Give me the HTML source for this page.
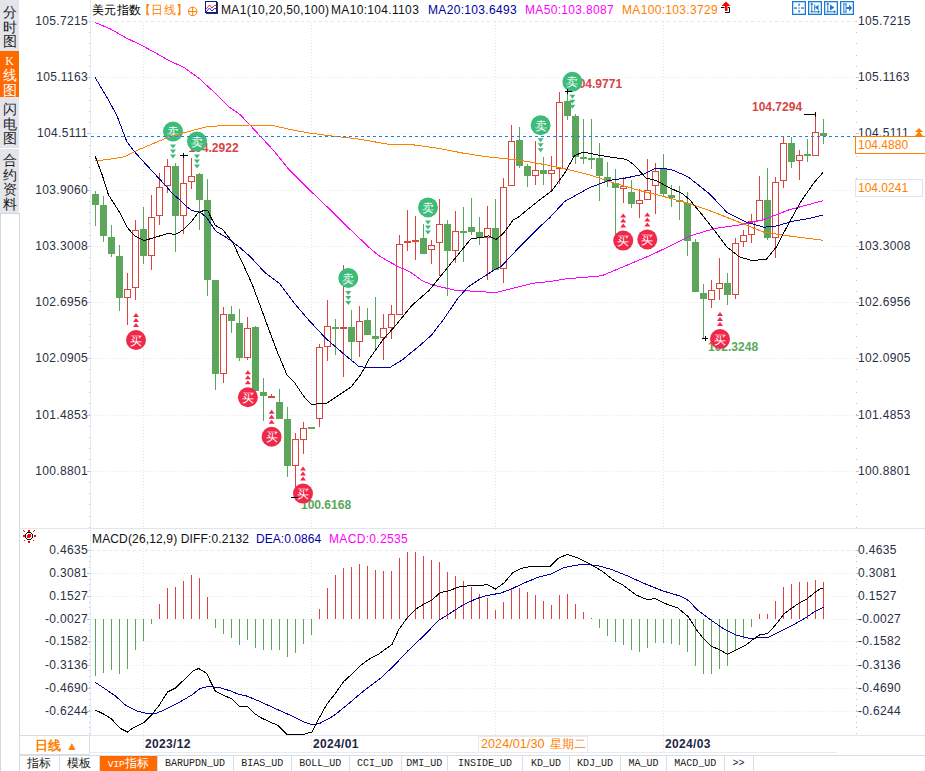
<!DOCTYPE html>
<html><head><meta charset="utf-8"><style>
*{margin:0;padding:0;box-sizing:border-box}
html,body{width:925px;height:771px;overflow:hidden;background:#fff;font-family:"Liberation Sans",sans-serif;color:#222}
#side{position:absolute;left:0;top:0;width:19px;height:214px;background:#e3e5ea}
#side2{position:absolute;left:0;top:213px;width:20px;height:560px;border:1px solid #cfd8e1;background:#fff}
.st{position:absolute;left:0;width:19px;text-align:center;font-size:14px;line-height:14.5px;color:#222}
.st.on{background:#ff6a00;color:#fff}
.yl{position:absolute;left:20px;width:68px;text-align:right;font-size:12px;line-height:16px;color:#2a2f45;letter-spacing:0.33px}
.yr{position:absolute;left:858px;width:64px;text-align:left;font-size:12px;line-height:16px;color:#2a2f45;letter-spacing:0.33px}
svg{position:absolute;left:0;top:0}
.hl{font:bold 12px "Liberation Sans",sans-serif}
.sig{font:500 12px "Liberation Sans",sans-serif;fill:#fff;text-anchor:middle}
.lg{position:absolute;top:2px;font-size:12px;line-height:16px;white-space:nowrap;letter-spacing:0.33px}
.tab{position:absolute;top:755px;height:16px;border-right:1px solid #d9dee6;border-top:1px solid #d9dee6;text-align:center;font:10px/15px "Liberation Mono",monospace;color:#222}
.tab.cn{font:12px/15px "Liberation Sans",sans-serif}
.tab.vip{background:#ff6a00;color:#fff;font:12px/15px "Liberation Sans",sans-serif}
.dt{position:absolute;top:736px;font:bold 12px/16px "Liberation Sans",sans-serif;color:#1f2740;letter-spacing:0.33px}
</style></head><body>
<div id="side"></div>
<div id="side2"></div>
<div class="st" style="top:5px">分<br>时<br>图</div>
<div class="st on" style="top:51px;height:46px;padding-top:4px;overflow:hidden"><div style="font:12px/12px 'Liberation Serif',serif;height:13px">K</div>线<br>图</div>
<div class="st" style="top:102px">闪<br>电<br>图</div>
<div style="position:absolute;left:0;top:148px;width:19px;height:1px;background:#fff"></div>
<div class="st" style="top:153px">合<br>约<br>资<br>料</div>
<svg width="925" height="771" viewBox="0 0 925 771">
<line x1="91" y1="77.5" x2="856" y2="77.5" stroke="#e0e8ef" stroke-dasharray="1 2"/>
<line x1="91" y1="133.5" x2="856" y2="133.5" stroke="#e0e8ef" stroke-dasharray="1 2"/>
<line x1="91" y1="190.5" x2="856" y2="190.5" stroke="#e0e8ef" stroke-dasharray="1 2"/>
<line x1="91" y1="246.5" x2="856" y2="246.5" stroke="#e0e8ef" stroke-dasharray="1 2"/>
<line x1="91" y1="302.5" x2="856" y2="302.5" stroke="#e0e8ef" stroke-dasharray="1 2"/>
<line x1="91" y1="358.5" x2="856" y2="358.5" stroke="#e0e8ef" stroke-dasharray="1 2"/>
<line x1="91" y1="415.5" x2="856" y2="415.5" stroke="#e0e8ef" stroke-dasharray="1 2"/>
<line x1="91" y1="471.5" x2="856" y2="471.5" stroke="#e0e8ef" stroke-dasharray="1 2"/>
<line x1="91" y1="21.5" x2="856" y2="21.5" stroke="#e0e8ef" stroke-dasharray="3 3"/>
<line x1="143.5" y1="22" x2="143.5" y2="527" stroke="#e0e8ef" stroke-dasharray="1 2"/>
<line x1="143.5" y1="545" x2="143.5" y2="735" stroke="#e0e8ef" stroke-dasharray="1 2"/>
<line x1="311.5" y1="22" x2="311.5" y2="527" stroke="#e0e8ef" stroke-dasharray="1 2"/>
<line x1="311.5" y1="545" x2="311.5" y2="735" stroke="#e0e8ef" stroke-dasharray="1 2"/>
<line x1="495.5" y1="22" x2="495.5" y2="527" stroke="#e0e8ef" stroke-dasharray="1 2"/>
<line x1="495.5" y1="545" x2="495.5" y2="735" stroke="#e0e8ef" stroke-dasharray="1 2"/>
<line x1="663.5" y1="22" x2="663.5" y2="527" stroke="#e0e8ef" stroke-dasharray="1 2"/>
<line x1="663.5" y1="545" x2="663.5" y2="735" stroke="#e0e8ef" stroke-dasharray="1 2"/>
<line x1="91" y1="550.5" x2="856" y2="550.5" stroke="#e0e8ef" stroke-dasharray="3 3"/>
<line x1="91" y1="573.5" x2="856" y2="573.5" stroke="#e0e8ef" stroke-dasharray="1 2"/>
<line x1="91" y1="596.5" x2="856" y2="596.5" stroke="#e0e8ef" stroke-dasharray="1 2"/>
<line x1="91" y1="619.5" x2="856" y2="619.5" stroke="#e0e8ef" stroke-dasharray="1 2"/>
<line x1="91" y1="641.5" x2="856" y2="641.5" stroke="#e0e8ef" stroke-dasharray="1 2"/>
<line x1="91" y1="665.5" x2="856" y2="665.5" stroke="#e0e8ef" stroke-dasharray="1 2"/>
<line x1="91" y1="688.5" x2="856" y2="688.5" stroke="#e0e8ef" stroke-dasharray="1 2"/>
<line x1="91" y1="711.5" x2="856" y2="711.5" stroke="#e0e8ef" stroke-dasharray="1 2"/>
<line x1="90" y1="752.5" x2="837" y2="752.5" stroke="#e6ebf0"/>
<line x1="143.5" y1="736" x2="143.5" y2="752" stroke="#e0e8ef" stroke-dasharray="1 2"/>
<line x1="311.5" y1="736" x2="311.5" y2="752" stroke="#e0e8ef" stroke-dasharray="1 2"/>
<line x1="663.5" y1="736" x2="663.5" y2="752" stroke="#e0e8ef" stroke-dasharray="1 2"/>
<line x1="90.5" y1="0" x2="90.5" y2="735" stroke="#e3e9f0"/>
<line x1="19" y1="528.5" x2="925" y2="528.5" stroke="#dfe6ee"/>
<line x1="19" y1="735.5" x2="925" y2="735.5" stroke="#dfe6ee"/>
<line x1="87" y1="77.5" x2="90" y2="77.5" stroke="#bcc5cf"/>
<line x1="856" y1="77.5" x2="859" y2="77.5" stroke="#bcc5cf"/>
<line x1="87" y1="133.5" x2="90" y2="133.5" stroke="#bcc5cf"/>
<line x1="856" y1="133.5" x2="859" y2="133.5" stroke="#bcc5cf"/>
<line x1="87" y1="190.5" x2="90" y2="190.5" stroke="#bcc5cf"/>
<line x1="856" y1="190.5" x2="859" y2="190.5" stroke="#bcc5cf"/>
<line x1="87" y1="246.5" x2="90" y2="246.5" stroke="#bcc5cf"/>
<line x1="856" y1="246.5" x2="859" y2="246.5" stroke="#bcc5cf"/>
<line x1="87" y1="302.5" x2="90" y2="302.5" stroke="#bcc5cf"/>
<line x1="856" y1="302.5" x2="859" y2="302.5" stroke="#bcc5cf"/>
<line x1="87" y1="358.5" x2="90" y2="358.5" stroke="#bcc5cf"/>
<line x1="856" y1="358.5" x2="859" y2="358.5" stroke="#bcc5cf"/>
<line x1="87" y1="415.5" x2="90" y2="415.5" stroke="#bcc5cf"/>
<line x1="856" y1="415.5" x2="859" y2="415.5" stroke="#bcc5cf"/>
<line x1="87" y1="471.5" x2="90" y2="471.5" stroke="#bcc5cf"/>
<line x1="856" y1="471.5" x2="859" y2="471.5" stroke="#bcc5cf"/>
<rect x="89" y="21" width="1" height="1" fill="#bcc5cf"/>
<rect x="856" y="21" width="1" height="1" fill="#bcc5cf"/>
<rect x="89" y="32" width="1" height="1" fill="#bcc5cf"/>
<rect x="856" y="32" width="1" height="1" fill="#bcc5cf"/>
<rect x="89" y="43" width="1" height="1" fill="#bcc5cf"/>
<rect x="856" y="43" width="1" height="1" fill="#bcc5cf"/>
<rect x="89" y="55" width="1" height="1" fill="#bcc5cf"/>
<rect x="856" y="55" width="1" height="1" fill="#bcc5cf"/>
<rect x="89" y="66" width="1" height="1" fill="#bcc5cf"/>
<rect x="856" y="66" width="1" height="1" fill="#bcc5cf"/>
<rect x="89" y="77" width="1" height="1" fill="#bcc5cf"/>
<rect x="856" y="77" width="1" height="1" fill="#bcc5cf"/>
<rect x="89" y="88" width="1" height="1" fill="#bcc5cf"/>
<rect x="856" y="88" width="1" height="1" fill="#bcc5cf"/>
<rect x="89" y="100" width="1" height="1" fill="#bcc5cf"/>
<rect x="856" y="100" width="1" height="1" fill="#bcc5cf"/>
<rect x="89" y="111" width="1" height="1" fill="#bcc5cf"/>
<rect x="856" y="111" width="1" height="1" fill="#bcc5cf"/>
<rect x="89" y="122" width="1" height="1" fill="#bcc5cf"/>
<rect x="856" y="122" width="1" height="1" fill="#bcc5cf"/>
<rect x="89" y="133" width="1" height="1" fill="#bcc5cf"/>
<rect x="856" y="133" width="1" height="1" fill="#bcc5cf"/>
<rect x="89" y="145" width="1" height="1" fill="#bcc5cf"/>
<rect x="856" y="145" width="1" height="1" fill="#bcc5cf"/>
<rect x="89" y="156" width="1" height="1" fill="#bcc5cf"/>
<rect x="856" y="156" width="1" height="1" fill="#bcc5cf"/>
<rect x="89" y="167" width="1" height="1" fill="#bcc5cf"/>
<rect x="856" y="167" width="1" height="1" fill="#bcc5cf"/>
<rect x="89" y="178" width="1" height="1" fill="#bcc5cf"/>
<rect x="856" y="178" width="1" height="1" fill="#bcc5cf"/>
<rect x="89" y="190" width="1" height="1" fill="#bcc5cf"/>
<rect x="856" y="190" width="1" height="1" fill="#bcc5cf"/>
<rect x="89" y="201" width="1" height="1" fill="#bcc5cf"/>
<rect x="856" y="201" width="1" height="1" fill="#bcc5cf"/>
<rect x="89" y="212" width="1" height="1" fill="#bcc5cf"/>
<rect x="856" y="212" width="1" height="1" fill="#bcc5cf"/>
<rect x="89" y="223" width="1" height="1" fill="#bcc5cf"/>
<rect x="856" y="223" width="1" height="1" fill="#bcc5cf"/>
<rect x="89" y="235" width="1" height="1" fill="#bcc5cf"/>
<rect x="856" y="235" width="1" height="1" fill="#bcc5cf"/>
<rect x="89" y="246" width="1" height="1" fill="#bcc5cf"/>
<rect x="856" y="246" width="1" height="1" fill="#bcc5cf"/>
<rect x="89" y="257" width="1" height="1" fill="#bcc5cf"/>
<rect x="856" y="257" width="1" height="1" fill="#bcc5cf"/>
<rect x="89" y="268" width="1" height="1" fill="#bcc5cf"/>
<rect x="856" y="268" width="1" height="1" fill="#bcc5cf"/>
<rect x="89" y="280" width="1" height="1" fill="#bcc5cf"/>
<rect x="856" y="280" width="1" height="1" fill="#bcc5cf"/>
<rect x="89" y="291" width="1" height="1" fill="#bcc5cf"/>
<rect x="856" y="291" width="1" height="1" fill="#bcc5cf"/>
<rect x="89" y="302" width="1" height="1" fill="#bcc5cf"/>
<rect x="856" y="302" width="1" height="1" fill="#bcc5cf"/>
<rect x="89" y="313" width="1" height="1" fill="#bcc5cf"/>
<rect x="856" y="313" width="1" height="1" fill="#bcc5cf"/>
<rect x="89" y="324" width="1" height="1" fill="#bcc5cf"/>
<rect x="856" y="324" width="1" height="1" fill="#bcc5cf"/>
<rect x="89" y="336" width="1" height="1" fill="#bcc5cf"/>
<rect x="856" y="336" width="1" height="1" fill="#bcc5cf"/>
<rect x="89" y="347" width="1" height="1" fill="#bcc5cf"/>
<rect x="856" y="347" width="1" height="1" fill="#bcc5cf"/>
<rect x="89" y="358" width="1" height="1" fill="#bcc5cf"/>
<rect x="856" y="358" width="1" height="1" fill="#bcc5cf"/>
<rect x="89" y="369" width="1" height="1" fill="#bcc5cf"/>
<rect x="856" y="369" width="1" height="1" fill="#bcc5cf"/>
<rect x="89" y="381" width="1" height="1" fill="#bcc5cf"/>
<rect x="856" y="381" width="1" height="1" fill="#bcc5cf"/>
<rect x="89" y="392" width="1" height="1" fill="#bcc5cf"/>
<rect x="856" y="392" width="1" height="1" fill="#bcc5cf"/>
<rect x="89" y="403" width="1" height="1" fill="#bcc5cf"/>
<rect x="856" y="403" width="1" height="1" fill="#bcc5cf"/>
<rect x="89" y="414" width="1" height="1" fill="#bcc5cf"/>
<rect x="856" y="414" width="1" height="1" fill="#bcc5cf"/>
<rect x="89" y="426" width="1" height="1" fill="#bcc5cf"/>
<rect x="856" y="426" width="1" height="1" fill="#bcc5cf"/>
<rect x="89" y="437" width="1" height="1" fill="#bcc5cf"/>
<rect x="856" y="437" width="1" height="1" fill="#bcc5cf"/>
<rect x="89" y="448" width="1" height="1" fill="#bcc5cf"/>
<rect x="856" y="448" width="1" height="1" fill="#bcc5cf"/>
<rect x="89" y="459" width="1" height="1" fill="#bcc5cf"/>
<rect x="856" y="459" width="1" height="1" fill="#bcc5cf"/>
<rect x="89" y="471" width="1" height="1" fill="#bcc5cf"/>
<rect x="856" y="471" width="1" height="1" fill="#bcc5cf"/>
<rect x="89" y="482" width="1" height="1" fill="#bcc5cf"/>
<rect x="856" y="482" width="1" height="1" fill="#bcc5cf"/>
<rect x="89" y="493" width="1" height="1" fill="#bcc5cf"/>
<rect x="856" y="493" width="1" height="1" fill="#bcc5cf"/>
<rect x="89" y="504" width="1" height="1" fill="#bcc5cf"/>
<rect x="856" y="504" width="1" height="1" fill="#bcc5cf"/>
<rect x="89" y="516" width="1" height="1" fill="#bcc5cf"/>
<rect x="856" y="516" width="1" height="1" fill="#bcc5cf"/>
<rect x="89" y="527" width="1" height="1" fill="#bcc5cf"/>
<rect x="856" y="527" width="1" height="1" fill="#bcc5cf"/>
<line x1="87" y1="550.5" x2="90" y2="550.5" stroke="#bcc5cf"/>
<line x1="856" y1="550.5" x2="859" y2="550.5" stroke="#bcc5cf"/>
<line x1="87" y1="573.5" x2="90" y2="573.5" stroke="#bcc5cf"/>
<line x1="856" y1="573.5" x2="859" y2="573.5" stroke="#bcc5cf"/>
<line x1="87" y1="596.5" x2="90" y2="596.5" stroke="#bcc5cf"/>
<line x1="856" y1="596.5" x2="859" y2="596.5" stroke="#bcc5cf"/>
<line x1="87" y1="619.5" x2="90" y2="619.5" stroke="#bcc5cf"/>
<line x1="856" y1="619.5" x2="859" y2="619.5" stroke="#bcc5cf"/>
<line x1="87" y1="641.5" x2="90" y2="641.5" stroke="#bcc5cf"/>
<line x1="856" y1="641.5" x2="859" y2="641.5" stroke="#bcc5cf"/>
<line x1="87" y1="665.5" x2="90" y2="665.5" stroke="#bcc5cf"/>
<line x1="856" y1="665.5" x2="859" y2="665.5" stroke="#bcc5cf"/>
<line x1="87" y1="688.5" x2="90" y2="688.5" stroke="#bcc5cf"/>
<line x1="856" y1="688.5" x2="859" y2="688.5" stroke="#bcc5cf"/>
<line x1="87" y1="711.5" x2="90" y2="711.5" stroke="#bcc5cf"/>
<line x1="856" y1="711.5" x2="859" y2="711.5" stroke="#bcc5cf"/>
<rect x="89" y="550" width="1" height="1" fill="#bcc5cf"/>
<rect x="856" y="550" width="1" height="1" fill="#bcc5cf"/>
<rect x="89" y="556" width="1" height="1" fill="#bcc5cf"/>
<rect x="856" y="556" width="1" height="1" fill="#bcc5cf"/>
<rect x="89" y="561" width="1" height="1" fill="#bcc5cf"/>
<rect x="856" y="561" width="1" height="1" fill="#bcc5cf"/>
<rect x="89" y="567" width="1" height="1" fill="#bcc5cf"/>
<rect x="856" y="567" width="1" height="1" fill="#bcc5cf"/>
<rect x="89" y="573" width="1" height="1" fill="#bcc5cf"/>
<rect x="856" y="573" width="1" height="1" fill="#bcc5cf"/>
<rect x="89" y="579" width="1" height="1" fill="#bcc5cf"/>
<rect x="856" y="579" width="1" height="1" fill="#bcc5cf"/>
<rect x="89" y="584" width="1" height="1" fill="#bcc5cf"/>
<rect x="856" y="584" width="1" height="1" fill="#bcc5cf"/>
<rect x="89" y="590" width="1" height="1" fill="#bcc5cf"/>
<rect x="856" y="590" width="1" height="1" fill="#bcc5cf"/>
<rect x="89" y="596" width="1" height="1" fill="#bcc5cf"/>
<rect x="856" y="596" width="1" height="1" fill="#bcc5cf"/>
<rect x="89" y="602" width="1" height="1" fill="#bcc5cf"/>
<rect x="856" y="602" width="1" height="1" fill="#bcc5cf"/>
<rect x="89" y="607" width="1" height="1" fill="#bcc5cf"/>
<rect x="856" y="607" width="1" height="1" fill="#bcc5cf"/>
<rect x="89" y="613" width="1" height="1" fill="#bcc5cf"/>
<rect x="856" y="613" width="1" height="1" fill="#bcc5cf"/>
<rect x="89" y="619" width="1" height="1" fill="#bcc5cf"/>
<rect x="856" y="619" width="1" height="1" fill="#bcc5cf"/>
<rect x="89" y="624" width="1" height="1" fill="#bcc5cf"/>
<rect x="856" y="624" width="1" height="1" fill="#bcc5cf"/>
<rect x="89" y="630" width="1" height="1" fill="#bcc5cf"/>
<rect x="856" y="630" width="1" height="1" fill="#bcc5cf"/>
<rect x="89" y="636" width="1" height="1" fill="#bcc5cf"/>
<rect x="856" y="636" width="1" height="1" fill="#bcc5cf"/>
<rect x="89" y="642" width="1" height="1" fill="#bcc5cf"/>
<rect x="856" y="642" width="1" height="1" fill="#bcc5cf"/>
<rect x="89" y="647" width="1" height="1" fill="#bcc5cf"/>
<rect x="856" y="647" width="1" height="1" fill="#bcc5cf"/>
<rect x="89" y="653" width="1" height="1" fill="#bcc5cf"/>
<rect x="856" y="653" width="1" height="1" fill="#bcc5cf"/>
<rect x="89" y="659" width="1" height="1" fill="#bcc5cf"/>
<rect x="856" y="659" width="1" height="1" fill="#bcc5cf"/>
<rect x="89" y="665" width="1" height="1" fill="#bcc5cf"/>
<rect x="856" y="665" width="1" height="1" fill="#bcc5cf"/>
<rect x="89" y="670" width="1" height="1" fill="#bcc5cf"/>
<rect x="856" y="670" width="1" height="1" fill="#bcc5cf"/>
<rect x="89" y="676" width="1" height="1" fill="#bcc5cf"/>
<rect x="856" y="676" width="1" height="1" fill="#bcc5cf"/>
<rect x="89" y="682" width="1" height="1" fill="#bcc5cf"/>
<rect x="856" y="682" width="1" height="1" fill="#bcc5cf"/>
<rect x="89" y="687" width="1" height="1" fill="#bcc5cf"/>
<rect x="856" y="687" width="1" height="1" fill="#bcc5cf"/>
<rect x="89" y="693" width="1" height="1" fill="#bcc5cf"/>
<rect x="856" y="693" width="1" height="1" fill="#bcc5cf"/>
<rect x="89" y="699" width="1" height="1" fill="#bcc5cf"/>
<rect x="856" y="699" width="1" height="1" fill="#bcc5cf"/>
<rect x="89" y="705" width="1" height="1" fill="#bcc5cf"/>
<rect x="856" y="705" width="1" height="1" fill="#bcc5cf"/>
<rect x="89" y="710" width="1" height="1" fill="#bcc5cf"/>
<rect x="856" y="710" width="1" height="1" fill="#bcc5cf"/>
<rect x="89" y="716" width="1" height="1" fill="#bcc5cf"/>
<rect x="856" y="716" width="1" height="1" fill="#bcc5cf"/>
<rect x="89" y="722" width="1" height="1" fill="#bcc5cf"/>
<rect x="856" y="722" width="1" height="1" fill="#bcc5cf"/>
<rect x="89" y="727" width="1" height="1" fill="#bcc5cf"/>
<rect x="856" y="727" width="1" height="1" fill="#bcc5cf"/>
<rect x="89" y="733" width="1" height="1" fill="#bcc5cf"/>
<rect x="856" y="733" width="1" height="1" fill="#bcc5cf"/>
<rect x="95" y="191" width="1" height="35" fill="#5ba65b"/>
<rect x="92" y="194" width="7" height="11" fill="#5ba65b"/>
<rect x="103" y="196" width="1" height="46" fill="#5ba65b"/>
<rect x="100" y="205" width="7" height="31" fill="#5ba65b"/>
<rect x="111" y="225" width="1" height="32" fill="#5ba65b"/>
<rect x="108" y="237" width="7" height="17" fill="#5ba65b"/>
<rect x="119" y="245" width="1" height="66" fill="#5ba65b"/>
<rect x="116" y="256" width="7" height="42" fill="#5ba65b"/>
<rect x="127" y="273" width="1" height="16" fill="#d9443d"/>
<rect x="127" y="298" width="1" height="27" fill="#d9443d"/>
<rect x="124.5" y="289.5" width="6" height="8" fill="none" stroke="#d9443d" stroke-width="1"/>
<rect x="135" y="220" width="1" height="10" fill="#d9443d"/>
<rect x="135" y="288" width="1" height="12" fill="#d9443d"/>
<rect x="132.5" y="230.5" width="6" height="57" fill="none" stroke="#d9443d" stroke-width="1"/>
<rect x="143" y="207" width="1" height="57" fill="#5ba65b"/>
<rect x="140" y="229" width="7" height="27" fill="#5ba65b"/>
<rect x="151" y="195" width="1" height="22" fill="#d9443d"/>
<rect x="151" y="256" width="1" height="14" fill="#d9443d"/>
<rect x="148.5" y="217.5" width="6" height="38" fill="none" stroke="#d9443d" stroke-width="1"/>
<rect x="159" y="173" width="1" height="14" fill="#d9443d"/>
<rect x="159" y="216" width="1" height="9" fill="#d9443d"/>
<rect x="156.5" y="187.5" width="6" height="28" fill="none" stroke="#d9443d" stroke-width="1"/>
<rect x="167" y="159" width="1" height="7" fill="#d9443d"/>
<rect x="167" y="186" width="1" height="7" fill="#d9443d"/>
<rect x="164.5" y="166.5" width="6" height="19" fill="none" stroke="#d9443d" stroke-width="1"/>
<rect x="175" y="163" width="1" height="89" fill="#5ba65b"/>
<rect x="172" y="166" width="7" height="50" fill="#5ba65b"/>
<rect x="183" y="154" width="1" height="29" fill="#d9443d"/>
<rect x="183" y="216" width="1" height="18" fill="#d9443d"/>
<rect x="180.5" y="183.5" width="6" height="32" fill="none" stroke="#d9443d" stroke-width="1"/>
<rect x="191" y="158" width="1" height="18" fill="#d9443d"/>
<rect x="191" y="182" width="1" height="7" fill="#d9443d"/>
<rect x="188.5" y="176.5" width="6" height="5" fill="none" stroke="#d9443d" stroke-width="1"/>
<rect x="199" y="173" width="1" height="57" fill="#5ba65b"/>
<rect x="196" y="174" width="7" height="26" fill="#5ba65b"/>
<rect x="207" y="179" width="1" height="117" fill="#5ba65b"/>
<rect x="204" y="200" width="7" height="80" fill="#5ba65b"/>
<rect x="215" y="280" width="1" height="110" fill="#5ba65b"/>
<rect x="212" y="280" width="7" height="94" fill="#5ba65b"/>
<rect x="223" y="307" width="1" height="7" fill="#d9443d"/>
<rect x="223" y="374" width="1" height="9" fill="#d9443d"/>
<rect x="220.5" y="314.5" width="6" height="59" fill="none" stroke="#d9443d" stroke-width="1"/>
<rect x="231" y="306" width="1" height="27" fill="#5ba65b"/>
<rect x="228" y="314" width="7" height="7" fill="#5ba65b"/>
<rect x="239" y="309" width="1" height="52" fill="#5ba65b"/>
<rect x="236" y="323" width="7" height="35" fill="#5ba65b"/>
<rect x="247" y="317" width="1" height="11" fill="#d9443d"/>
<rect x="247" y="358" width="1" height="2" fill="#d9443d"/>
<rect x="244.5" y="328.5" width="6" height="29" fill="none" stroke="#d9443d" stroke-width="1"/>
<rect x="255" y="326" width="1" height="65" fill="#5ba65b"/>
<rect x="252" y="327" width="7" height="64" fill="#5ba65b"/>
<rect x="263" y="378" width="1" height="43" fill="#5ba65b"/>
<rect x="260" y="392" width="7" height="4" fill="#5ba65b"/>
<rect x="271" y="394" width="1" height="2" fill="#d9443d"/>
<rect x="271" y="398" width="1" height="0" fill="#d9443d"/>
<rect x="268.5" y="396.5" width="6" height="1" fill="none" stroke="#d9443d" stroke-width="1"/>
<rect x="279" y="389" width="1" height="30" fill="#5ba65b"/>
<rect x="276" y="402" width="7" height="17" fill="#5ba65b"/>
<rect x="287" y="407" width="1" height="70" fill="#5ba65b"/>
<rect x="284" y="419" width="7" height="47" fill="#5ba65b"/>
<rect x="295" y="433" width="1" height="6" fill="#d9443d"/>
<rect x="295" y="466" width="1" height="32" fill="#d9443d"/>
<rect x="292.5" y="439.5" width="6" height="26" fill="none" stroke="#d9443d" stroke-width="1"/>
<rect x="303" y="422" width="1" height="6" fill="#d9443d"/>
<rect x="303" y="440" width="1" height="14" fill="#d9443d"/>
<rect x="300.5" y="428.5" width="6" height="11" fill="none" stroke="#d9443d" stroke-width="1"/>
<rect x="311" y="427" width="1" height="2" fill="#5ba65b"/>
<rect x="308" y="427" width="7" height="2" fill="#5ba65b"/>
<rect x="319" y="344" width="1" height="3" fill="#d9443d"/>
<rect x="319" y="419" width="1" height="8" fill="#d9443d"/>
<rect x="316.5" y="347.5" width="6" height="71" fill="none" stroke="#d9443d" stroke-width="1"/>
<rect x="327" y="300" width="1" height="26" fill="#d9443d"/>
<rect x="327" y="347" width="1" height="14" fill="#d9443d"/>
<rect x="324.5" y="326.5" width="6" height="20" fill="none" stroke="#d9443d" stroke-width="1"/>
<rect x="335" y="319" width="1" height="36" fill="#5ba65b"/>
<rect x="332" y="327" width="7" height="2" fill="#5ba65b"/>
<rect x="343" y="265" width="1" height="62" fill="#d9443d"/>
<rect x="343" y="329" width="1" height="48" fill="#d9443d"/>
<rect x="340.5" y="327.5" width="6" height="1" fill="none" stroke="#d9443d" stroke-width="1"/>
<rect x="351" y="310" width="1" height="50" fill="#5ba65b"/>
<rect x="348" y="327" width="7" height="15" fill="#5ba65b"/>
<rect x="359" y="306" width="1" height="15" fill="#d9443d"/>
<rect x="359" y="342" width="1" height="15" fill="#d9443d"/>
<rect x="356.5" y="321.5" width="6" height="20" fill="none" stroke="#d9443d" stroke-width="1"/>
<rect x="367" y="308" width="1" height="27" fill="#5ba65b"/>
<rect x="364" y="320" width="7" height="15" fill="#5ba65b"/>
<rect x="375" y="297" width="1" height="53" fill="#5ba65b"/>
<rect x="372" y="336" width="7" height="3" fill="#5ba65b"/>
<rect x="383" y="314" width="1" height="14" fill="#d9443d"/>
<rect x="383" y="338" width="1" height="22" fill="#d9443d"/>
<rect x="380.5" y="328.5" width="6" height="9" fill="none" stroke="#d9443d" stroke-width="1"/>
<rect x="391" y="305" width="1" height="9" fill="#d9443d"/>
<rect x="391" y="328" width="1" height="11" fill="#d9443d"/>
<rect x="388.5" y="314.5" width="6" height="13" fill="none" stroke="#d9443d" stroke-width="1"/>
<rect x="399" y="235" width="1" height="9" fill="#d9443d"/>
<rect x="399" y="315" width="1" height="0" fill="#d9443d"/>
<rect x="396.5" y="244.5" width="6" height="70" fill="none" stroke="#d9443d" stroke-width="1"/>
<rect x="407" y="210" width="1" height="31" fill="#d9443d"/>
<rect x="407" y="243" width="1" height="8" fill="#d9443d"/>
<rect x="404.5" y="241.5" width="6" height="1" fill="none" stroke="#d9443d" stroke-width="1"/>
<rect x="415" y="216" width="1" height="24" fill="#d9443d"/>
<rect x="415" y="242" width="1" height="18" fill="#d9443d"/>
<rect x="412.5" y="240.5" width="6" height="1" fill="none" stroke="#d9443d" stroke-width="1"/>
<rect x="423" y="224" width="1" height="30" fill="#5ba65b"/>
<rect x="420" y="238" width="7" height="16" fill="#5ba65b"/>
<rect x="431" y="240" width="1" height="5" fill="#d9443d"/>
<rect x="431" y="250" width="1" height="14" fill="#d9443d"/>
<rect x="428.5" y="245.5" width="6" height="4" fill="none" stroke="#d9443d" stroke-width="1"/>
<rect x="439" y="199" width="1" height="25" fill="#d9443d"/>
<rect x="439" y="243" width="1" height="33" fill="#d9443d"/>
<rect x="436.5" y="224.5" width="6" height="18" fill="none" stroke="#d9443d" stroke-width="1"/>
<rect x="447" y="220" width="1" height="76" fill="#5ba65b"/>
<rect x="444" y="224" width="7" height="27" fill="#5ba65b"/>
<rect x="455" y="211" width="1" height="20" fill="#d9443d"/>
<rect x="455" y="251" width="1" height="12" fill="#d9443d"/>
<rect x="452.5" y="231.5" width="6" height="19" fill="none" stroke="#d9443d" stroke-width="1"/>
<rect x="463" y="207" width="1" height="55" fill="#5ba65b"/>
<rect x="460" y="231" width="7" height="2" fill="#5ba65b"/>
<rect x="471" y="198" width="1" height="37" fill="#5ba65b"/>
<rect x="468" y="227" width="7" height="5" fill="#5ba65b"/>
<rect x="479" y="217" width="1" height="28" fill="#5ba65b"/>
<rect x="476" y="232" width="7" height="6" fill="#5ba65b"/>
<rect x="487" y="206" width="1" height="22" fill="#d9443d"/>
<rect x="487" y="238" width="1" height="42" fill="#d9443d"/>
<rect x="484.5" y="228.5" width="6" height="9" fill="none" stroke="#d9443d" stroke-width="1"/>
<rect x="495" y="199" width="1" height="71" fill="#5ba65b"/>
<rect x="492" y="228" width="7" height="42" fill="#5ba65b"/>
<rect x="503" y="178" width="1" height="9" fill="#d9443d"/>
<rect x="503" y="269" width="1" height="14" fill="#d9443d"/>
<rect x="500.5" y="187.5" width="6" height="81" fill="none" stroke="#d9443d" stroke-width="1"/>
<rect x="511" y="125" width="1" height="16" fill="#d9443d"/>
<rect x="511" y="186" width="1" height="0" fill="#d9443d"/>
<rect x="508.5" y="141.5" width="6" height="44" fill="none" stroke="#d9443d" stroke-width="1"/>
<rect x="519" y="127" width="1" height="41" fill="#5ba65b"/>
<rect x="516" y="140" width="7" height="26" fill="#5ba65b"/>
<rect x="527" y="164" width="1" height="23" fill="#5ba65b"/>
<rect x="524" y="166" width="7" height="10" fill="#5ba65b"/>
<rect x="535" y="141" width="1" height="29" fill="#d9443d"/>
<rect x="535" y="176" width="1" height="9" fill="#d9443d"/>
<rect x="532.5" y="170.5" width="6" height="5" fill="none" stroke="#d9443d" stroke-width="1"/>
<rect x="543" y="157" width="1" height="28" fill="#5ba65b"/>
<rect x="540" y="170" width="7" height="4" fill="#5ba65b"/>
<rect x="551" y="156" width="1" height="14" fill="#d9443d"/>
<rect x="551" y="174" width="1" height="17" fill="#d9443d"/>
<rect x="548.5" y="170.5" width="6" height="3" fill="none" stroke="#d9443d" stroke-width="1"/>
<rect x="559" y="92" width="1" height="10" fill="#d9443d"/>
<rect x="559" y="169" width="1" height="15" fill="#d9443d"/>
<rect x="556.5" y="102.5" width="6" height="66" fill="none" stroke="#d9443d" stroke-width="1"/>
<rect x="567" y="92" width="1" height="28" fill="#5ba65b"/>
<rect x="564" y="101" width="7" height="15" fill="#5ba65b"/>
<rect x="575" y="114" width="1" height="50" fill="#5ba65b"/>
<rect x="572" y="116" width="7" height="41" fill="#5ba65b"/>
<rect x="583" y="119" width="1" height="45" fill="#5ba65b"/>
<rect x="580" y="157" width="7" height="2" fill="#5ba65b"/>
<rect x="591" y="119" width="1" height="50" fill="#5ba65b"/>
<rect x="588" y="158" width="7" height="2" fill="#5ba65b"/>
<rect x="599" y="143" width="1" height="58" fill="#5ba65b"/>
<rect x="596" y="158" width="7" height="18" fill="#5ba65b"/>
<rect x="607" y="162" width="1" height="25" fill="#5ba65b"/>
<rect x="604" y="177" width="7" height="5" fill="#5ba65b"/>
<rect x="615" y="169" width="1" height="66" fill="#5ba65b"/>
<rect x="612" y="183" width="7" height="5" fill="#5ba65b"/>
<rect x="623" y="177" width="1" height="9" fill="#d9443d"/>
<rect x="623" y="189" width="1" height="14" fill="#d9443d"/>
<rect x="620.5" y="186.5" width="6" height="2" fill="none" stroke="#d9443d" stroke-width="1"/>
<rect x="631" y="180" width="1" height="28" fill="#5ba65b"/>
<rect x="628" y="192" width="7" height="12" fill="#5ba65b"/>
<rect x="639" y="189" width="1" height="11" fill="#d9443d"/>
<rect x="639" y="204" width="1" height="14" fill="#d9443d"/>
<rect x="636.5" y="200.5" width="6" height="3" fill="none" stroke="#d9443d" stroke-width="1"/>
<rect x="647" y="159" width="1" height="31" fill="#d9443d"/>
<rect x="647" y="200" width="1" height="0" fill="#d9443d"/>
<rect x="644.5" y="190.5" width="6" height="9" fill="none" stroke="#d9443d" stroke-width="1"/>
<rect x="655" y="163" width="1" height="8" fill="#d9443d"/>
<rect x="655" y="186" width="1" height="28" fill="#d9443d"/>
<rect x="652.5" y="171.5" width="6" height="14" fill="none" stroke="#d9443d" stroke-width="1"/>
<rect x="663" y="154" width="1" height="43" fill="#5ba65b"/>
<rect x="660" y="169" width="7" height="25" fill="#5ba65b"/>
<rect x="671" y="185" width="1" height="22" fill="#5ba65b"/>
<rect x="668" y="195" width="7" height="3" fill="#5ba65b"/>
<rect x="679" y="186" width="1" height="34" fill="#5ba65b"/>
<rect x="676" y="200" width="7" height="2" fill="#5ba65b"/>
<rect x="687" y="192" width="1" height="64" fill="#5ba65b"/>
<rect x="684" y="203" width="7" height="38" fill="#5ba65b"/>
<rect x="695" y="239" width="1" height="53" fill="#5ba65b"/>
<rect x="692" y="242" width="7" height="50" fill="#5ba65b"/>
<rect x="703" y="284" width="1" height="54" fill="#5ba65b"/>
<rect x="700" y="293" width="7" height="6" fill="#5ba65b"/>
<rect x="711" y="280" width="1" height="10" fill="#d9443d"/>
<rect x="711" y="300" width="1" height="8" fill="#d9443d"/>
<rect x="708.5" y="290.5" width="6" height="9" fill="none" stroke="#d9443d" stroke-width="1"/>
<rect x="719" y="258" width="1" height="25" fill="#d9443d"/>
<rect x="719" y="289" width="1" height="11" fill="#d9443d"/>
<rect x="716.5" y="283.5" width="6" height="5" fill="none" stroke="#d9443d" stroke-width="1"/>
<rect x="727" y="273" width="1" height="32" fill="#5ba65b"/>
<rect x="724" y="283" width="7" height="12" fill="#5ba65b"/>
<rect x="735" y="238" width="1" height="5" fill="#d9443d"/>
<rect x="735" y="295" width="1" height="4" fill="#d9443d"/>
<rect x="732.5" y="243.5" width="6" height="51" fill="none" stroke="#d9443d" stroke-width="1"/>
<rect x="743" y="230" width="1" height="5" fill="#d9443d"/>
<rect x="743" y="242" width="1" height="5" fill="#d9443d"/>
<rect x="740.5" y="235.5" width="6" height="6" fill="none" stroke="#d9443d" stroke-width="1"/>
<rect x="751" y="214" width="1" height="7" fill="#d9443d"/>
<rect x="751" y="235" width="1" height="8" fill="#d9443d"/>
<rect x="748.5" y="221.5" width="6" height="13" fill="none" stroke="#d9443d" stroke-width="1"/>
<rect x="759" y="176" width="1" height="24" fill="#d9443d"/>
<rect x="759" y="221" width="1" height="0" fill="#d9443d"/>
<rect x="756.5" y="200.5" width="6" height="20" fill="none" stroke="#d9443d" stroke-width="1"/>
<rect x="767" y="168" width="1" height="72" fill="#5ba65b"/>
<rect x="764" y="200" width="7" height="38" fill="#5ba65b"/>
<rect x="775" y="177" width="1" height="5" fill="#d9443d"/>
<rect x="775" y="238" width="1" height="20" fill="#d9443d"/>
<rect x="772.5" y="182.5" width="6" height="55" fill="none" stroke="#d9443d" stroke-width="1"/>
<rect x="783" y="136" width="1" height="7" fill="#d9443d"/>
<rect x="783" y="181" width="1" height="7" fill="#d9443d"/>
<rect x="780.5" y="143.5" width="6" height="37" fill="none" stroke="#d9443d" stroke-width="1"/>
<rect x="791" y="137" width="1" height="31" fill="#5ba65b"/>
<rect x="788" y="143" width="7" height="19" fill="#5ba65b"/>
<rect x="799" y="150" width="1" height="5" fill="#d9443d"/>
<rect x="799" y="161" width="1" height="19" fill="#d9443d"/>
<rect x="796.5" y="155.5" width="6" height="5" fill="none" stroke="#d9443d" stroke-width="1"/>
<rect x="807" y="139" width="1" height="23" fill="#5ba65b"/>
<rect x="804" y="154" width="7" height="2" fill="#5ba65b"/>
<rect x="815" y="114" width="1" height="18" fill="#d9443d"/>
<rect x="815" y="156" width="1" height="0" fill="#d9443d"/>
<rect x="812.5" y="132.5" width="6" height="23" fill="none" stroke="#d9443d" stroke-width="1"/>
<rect x="823" y="119" width="1" height="25" fill="#5ba65b"/>
<rect x="820" y="133" width="7" height="3" fill="#5ba65b"/>
<rect x="95" y="619" width="1" height="57" fill="#5ba65b"/>
<rect x="103" y="619" width="1" height="54" fill="#5ba65b"/>
<rect x="111" y="619" width="1" height="51" fill="#5ba65b"/>
<rect x="119" y="619" width="1" height="55" fill="#5ba65b"/>
<rect x="127" y="619" width="1" height="50" fill="#5ba65b"/>
<rect x="135" y="619" width="1" height="31" fill="#5ba65b"/>
<rect x="143" y="619" width="1" height="22" fill="#5ba65b"/>
<rect x="151" y="619" width="1" height="5" fill="#5ba65b"/>
<rect x="159" y="604" width="1" height="15" fill="#d9443d"/>
<rect x="167" y="588" width="1" height="31" fill="#d9443d"/>
<rect x="175" y="587" width="1" height="32" fill="#d9443d"/>
<rect x="183" y="581" width="1" height="38" fill="#d9443d"/>
<rect x="191" y="575" width="1" height="44" fill="#d9443d"/>
<rect x="199" y="578" width="1" height="41" fill="#d9443d"/>
<rect x="207" y="597" width="1" height="22" fill="#d9443d"/>
<rect x="215" y="619" width="1" height="9" fill="#5ba65b"/>
<rect x="223" y="619" width="1" height="15" fill="#5ba65b"/>
<rect x="231" y="619" width="1" height="19" fill="#5ba65b"/>
<rect x="239" y="619" width="1" height="26" fill="#5ba65b"/>
<rect x="247" y="619" width="1" height="21" fill="#5ba65b"/>
<rect x="255" y="619" width="1" height="29" fill="#5ba65b"/>
<rect x="263" y="619" width="1" height="31" fill="#5ba65b"/>
<rect x="271" y="619" width="1" height="31" fill="#5ba65b"/>
<rect x="279" y="619" width="1" height="31" fill="#5ba65b"/>
<rect x="287" y="619" width="1" height="38" fill="#5ba65b"/>
<rect x="295" y="619" width="1" height="34" fill="#5ba65b"/>
<rect x="303" y="619" width="1" height="25" fill="#5ba65b"/>
<rect x="311" y="619" width="1" height="16" fill="#5ba65b"/>
<rect x="319" y="609" width="1" height="10" fill="#d9443d"/>
<rect x="327" y="588" width="1" height="31" fill="#d9443d"/>
<rect x="335" y="575" width="1" height="44" fill="#d9443d"/>
<rect x="343" y="568" width="1" height="51" fill="#d9443d"/>
<rect x="351" y="567" width="1" height="52" fill="#d9443d"/>
<rect x="359" y="564" width="1" height="55" fill="#d9443d"/>
<rect x="367" y="566" width="1" height="53" fill="#d9443d"/>
<rect x="375" y="570" width="1" height="49" fill="#d9443d"/>
<rect x="383" y="571" width="1" height="48" fill="#d9443d"/>
<rect x="391" y="571" width="1" height="48" fill="#d9443d"/>
<rect x="399" y="558" width="1" height="61" fill="#d9443d"/>
<rect x="407" y="552" width="1" height="67" fill="#d9443d"/>
<rect x="415" y="552" width="1" height="67" fill="#d9443d"/>
<rect x="423" y="556" width="1" height="63" fill="#d9443d"/>
<rect x="431" y="560" width="1" height="59" fill="#d9443d"/>
<rect x="439" y="562" width="1" height="57" fill="#d9443d"/>
<rect x="447" y="572" width="1" height="47" fill="#d9443d"/>
<rect x="455" y="576" width="1" height="43" fill="#d9443d"/>
<rect x="463" y="581" width="1" height="38" fill="#d9443d"/>
<rect x="471" y="587" width="1" height="32" fill="#d9443d"/>
<rect x="479" y="594" width="1" height="25" fill="#d9443d"/>
<rect x="487" y="598" width="1" height="21" fill="#d9443d"/>
<rect x="495" y="610" width="1" height="9" fill="#d9443d"/>
<rect x="503" y="602" width="1" height="17" fill="#d9443d"/>
<rect x="511" y="589" width="1" height="30" fill="#d9443d"/>
<rect x="519" y="588" width="1" height="31" fill="#d9443d"/>
<rect x="527" y="592" width="1" height="27" fill="#d9443d"/>
<rect x="535" y="595" width="1" height="24" fill="#d9443d"/>
<rect x="543" y="601" width="1" height="18" fill="#d9443d"/>
<rect x="551" y="605" width="1" height="14" fill="#d9443d"/>
<rect x="559" y="595" width="1" height="24" fill="#d9443d"/>
<rect x="567" y="594" width="1" height="25" fill="#d9443d"/>
<rect x="575" y="604" width="1" height="15" fill="#d9443d"/>
<rect x="583" y="612" width="1" height="7" fill="#d9443d"/>
<rect x="591" y="618" width="1" height="1" fill="#d9443d"/>
<rect x="599" y="619" width="1" height="9" fill="#5ba65b"/>
<rect x="607" y="619" width="1" height="17" fill="#5ba65b"/>
<rect x="615" y="619" width="1" height="23" fill="#5ba65b"/>
<rect x="623" y="619" width="1" height="26" fill="#5ba65b"/>
<rect x="631" y="619" width="1" height="31" fill="#5ba65b"/>
<rect x="639" y="619" width="1" height="33" fill="#5ba65b"/>
<rect x="647" y="619" width="1" height="29" fill="#5ba65b"/>
<rect x="655" y="619" width="1" height="24" fill="#5ba65b"/>
<rect x="663" y="619" width="1" height="24" fill="#5ba65b"/>
<rect x="671" y="619" width="1" height="25" fill="#5ba65b"/>
<rect x="679" y="619" width="1" height="26" fill="#5ba65b"/>
<rect x="687" y="619" width="1" height="33" fill="#5ba65b"/>
<rect x="695" y="619" width="1" height="47" fill="#5ba65b"/>
<rect x="703" y="619" width="1" height="55" fill="#5ba65b"/>
<rect x="711" y="619" width="1" height="55" fill="#5ba65b"/>
<rect x="719" y="619" width="1" height="50" fill="#5ba65b"/>
<rect x="727" y="619" width="1" height="47" fill="#5ba65b"/>
<rect x="735" y="619" width="1" height="31" fill="#5ba65b"/>
<rect x="743" y="619" width="1" height="20" fill="#5ba65b"/>
<rect x="751" y="619" width="1" height="8" fill="#5ba65b"/>
<rect x="759" y="614" width="1" height="5" fill="#d9443d"/>
<rect x="767" y="614" width="1" height="5" fill="#d9443d"/>
<rect x="775" y="601" width="1" height="18" fill="#d9443d"/>
<rect x="783" y="587" width="1" height="32" fill="#d9443d"/>
<rect x="791" y="584" width="1" height="35" fill="#d9443d"/>
<rect x="799" y="582" width="1" height="37" fill="#d9443d"/>
<rect x="807" y="582" width="1" height="37" fill="#d9443d"/>
<rect x="815" y="580" width="1" height="39" fill="#d9443d"/>
<rect x="823" y="582" width="1" height="37" fill="#d9443d"/>
<polyline points="95.3,682.4 105.3,689.0 115.7,696.2 125.2,704.9 136.4,710.9 146.8,713.5 154.6,714.0 164.1,710.0 178.0,703.1 191.8,695.0 200.4,688.4 209.1,686.4 219.5,687.6 229.9,690.7 238.5,694.2 246.9,696.1 257.3,700.4 274.6,708.2 291.9,716.0 304.0,722.1 312.7,724.7 319.6,723.5 333.4,716.0 347.3,704.8 364.6,690.1 381.9,677.1 395.2,664.4 407.3,651.4 424.6,635.0 438.4,620.6 447.1,615.1 462.7,605.2 476.5,598.6 486.9,595.5 500.7,593.1 511.1,589.1 524.9,582.7 538.8,577.0 550.0,574.4 563.8,567.5 581.1,564.4 596.7,565.4 610.6,569.2 627.9,576.1 645.2,583.9 662.5,590.8 679.8,596.0 688.4,600.4 697.3,609.8 711.1,620.2 725.0,629.7 737.1,635.4 749.2,638.3 768.2,637.5 780.3,631.4 792.5,625.4 804.6,618.4 814.9,611.5 823.6,607.2" fill="none" stroke="#00009c" stroke-width="1" shape-rendering="crispEdges"/>
<polyline points="95.3,710.0 103.6,714.0 111.4,718.7 115.7,723.9 120.0,728.2 127.4,732.0 133.8,727.4 143.4,723.0 152.0,714.4 158.9,705.7 167.6,691.9 175.4,688.1 184.9,678.9 192.7,671.1 198.7,668.5 206.5,673.2 215.2,691.0 223.0,695.0 231.6,698.8 239.4,706.1 246.9,706.2 255.6,714.3 262.5,718.6 270.3,722.1 278.1,725.5 286.7,734.2 304.0,734.2 311.8,732.1 317.9,720.3 326.5,704.8 335.2,693.5 343.8,681.4 354.2,671.9 361.1,665.0 368.0,659.8 378.4,654.3 392.2,644.2 398.7,629.8 407.3,617.7 416.0,609.0 424.6,603.8 431.5,600.4 440.2,592.6 448.8,590.8 459.2,586.9 469.6,585.7 483.4,585.1 486.9,584.4 495.5,589.1 504.2,582.7 512.8,572.7 521.5,568.4 531.9,566.3 550.0,566.6 558.7,558.0 567.3,554.5 577.7,558.0 589.8,563.7 601.9,571.0 614.0,580.5 622.7,584.8 636.5,595.2 646.9,599.5 655.5,598.6 665.9,603.8 678.0,608.1 688.4,616.8 697.1,630.6 704.0,639.3 711.1,646.1 719.8,649.9 727.6,654.3 737.1,649.6 745.7,645.3 754.4,638.3 759.6,634.9 767.4,633.7 775.2,625.4 783.8,614.1 790.7,608.9 799.4,602.9 806.3,599.4 814.9,592.5 820.1,589.0 823.6,587.8" fill="none" stroke="#000000" stroke-width="1" shape-rendering="crispEdges"/>
<text x="188.5" y="152" class="hl" fill="#d64545">104.2922</text>
<text x="572" y="88" class="hl" fill="#d64545">104.9771</text>
<text x="752" y="110.5" class="hl" fill="#d64545">104.7294</text>
<text x="301" y="509" class="hl" fill="#5aa75a">100.6168</text>
<text x="708" y="350.5" class="hl" fill="#5aa75a">102.3248</text>
<circle cx="173" cy="131.5" r="10" fill="#3dbb78"/><polygon points="170,144.5 176,144.5 173,148.5" fill="#3dbb78"/><polygon points="170,149.5 176,149.5 173,153.5" fill="#3dbb78"/><polygon points="170,154.5 176,154.5 173,158.5" fill="#3dbb78"/>
<text x="173" y="136.0" class="sig">卖</text>
<circle cx="197" cy="141.5" r="10" fill="#3dbb78"/><polygon points="194,154.5 200,154.5 197,158.5" fill="#3dbb78"/><polygon points="194,159.5 200,159.5 197,163.5" fill="#3dbb78"/><polygon points="194,164.5 200,164.5 197,168.5" fill="#3dbb78"/>
<text x="197" y="146.0" class="sig">卖</text>
<circle cx="348.3" cy="278" r="10" fill="#3dbb78"/><polygon points="345.3,291 351.3,291 348.3,295" fill="#3dbb78"/><polygon points="345.3,296 351.3,296 348.3,300" fill="#3dbb78"/><polygon points="345.3,301 351.3,301 348.3,305" fill="#3dbb78"/>
<text x="348.3" y="282.5" class="sig">卖</text>
<circle cx="428" cy="207.4" r="10" fill="#3dbb78"/><polygon points="425,220.4 431,220.4 428,224.4" fill="#3dbb78"/><polygon points="425,225.4 431,225.4 428,229.4" fill="#3dbb78"/><polygon points="425,230.4 431,230.4 428,234.4" fill="#3dbb78"/>
<text x="428" y="211.9" class="sig">卖</text>
<circle cx="540.6" cy="125.2" r="10" fill="#3dbb78"/><polygon points="537.6,138.2 543.6,138.2 540.6,142.2" fill="#3dbb78"/><polygon points="537.6,143.2 543.6,143.2 540.6,147.2" fill="#3dbb78"/><polygon points="537.6,148.2 543.6,148.2 540.6,152.2" fill="#3dbb78"/>
<text x="540.6" y="129.7" class="sig">卖</text>
<circle cx="572.4" cy="81.8" r="10" fill="#3dbb78"/><polygon points="569.4,94.8 575.4,94.8 572.4,98.8" fill="#3dbb78"/><polygon points="569.4,99.8 575.4,99.8 572.4,103.8" fill="#3dbb78"/><polygon points="569.4,104.8 575.4,104.8 572.4,108.8" fill="#3dbb78"/>
<text x="572.4" y="86.3" class="sig">卖</text>
<circle cx="136" cy="340" r="10" fill="#f0284a"/><polygon points="133,327 139,327 136,323" fill="#f0284a"/><polygon points="133,322 139,322 136,318" fill="#f0284a"/><polygon points="133,317 139,317 136,313" fill="#f0284a"/>
<text x="136" y="344.5" class="sig">买</text>
<circle cx="247.9" cy="397.3" r="10" fill="#f0284a"/><polygon points="244.9,384.3 250.9,384.3 247.9,380.3" fill="#f0284a"/><polygon points="244.9,379.3 250.9,379.3 247.9,375.3" fill="#f0284a"/><polygon points="244.9,374.3 250.9,374.3 247.9,370.3" fill="#f0284a"/>
<text x="247.9" y="401.8" class="sig">买</text>
<circle cx="271.6" cy="436.7" r="10" fill="#f0284a"/><polygon points="268.6,423.7 274.6,423.7 271.6,419.7" fill="#f0284a"/><polygon points="268.6,418.7 274.6,418.7 271.6,414.7" fill="#f0284a"/><polygon points="268.6,413.7 274.6,413.7 271.6,409.7" fill="#f0284a"/>
<text x="271.6" y="441.2" class="sig">买</text>
<circle cx="303" cy="493.6" r="10" fill="#f0284a"/><polygon points="300,480.6 306,480.6 303,476.6" fill="#f0284a"/><polygon points="300,475.6 306,475.6 303,471.6" fill="#f0284a"/><polygon points="300,470.6 306,470.6 303,466.6" fill="#f0284a"/>
<text x="303" y="498.1" class="sig">买</text>
<circle cx="623.2" cy="240.6" r="10" fill="#f0284a"/><polygon points="620.2,227.6 626.2,227.6 623.2,223.6" fill="#f0284a"/><polygon points="620.2,222.6 626.2,222.6 623.2,218.6" fill="#f0284a"/><polygon points="620.2,217.6 626.2,217.6 623.2,213.6" fill="#f0284a"/>
<text x="623.2" y="245.1" class="sig">买</text>
<circle cx="647.3" cy="239.4" r="10" fill="#f0284a"/><polygon points="644.3,226.4 650.3,226.4 647.3,222.4" fill="#f0284a"/><polygon points="644.3,221.4 650.3,221.4 647.3,217.4" fill="#f0284a"/><polygon points="644.3,216.4 650.3,216.4 647.3,212.4" fill="#f0284a"/>
<text x="647.3" y="243.9" class="sig">买</text>
<circle cx="720" cy="339" r="10" fill="#f0284a"/><polygon points="717,326 723,326 720,322" fill="#f0284a"/><polygon points="717,321 723,321 720,317" fill="#f0284a"/><polygon points="717,316 723,316 720,312" fill="#f0284a"/>
<text x="720" y="343.5" class="sig">买</text>
<polyline points="94.9,22.4 109.7,28.6 127.0,38.4 139.3,44.1 154.1,52.0 168.9,60.6 183.7,67.3 198.5,77.9 213.3,91.4 228.0,106.2 240.0,114.5 259.7,135.5 274.5,151.5 289.3,170.0 306.6,187.2 331.2,210.7 346.0,225.5 370.7,248.9 378.0,255.0 386.0,260.0 399.0,267.0 409.7,271.6 422.3,280.8 431.9,284.7 454.1,290.1 476.3,291.4 496.0,292.6 513.3,288.1 533.0,283.2 550.0,281.5 564.7,279.0 601.6,275.8 626.3,265.5 651.0,255.1 675.6,243.3 690.0,235.9 714.7,228.5 739.3,225.0 764.0,219.6 788.6,210.0 823.1,200.6" fill="none" stroke="#ff00ff" stroke-width="1" shape-rendering="crispEdges"/>
<polyline points="94.9,161.0 109.7,159.2 124.5,156.8 139.3,149.4 154.1,143.2 168.9,137.0 183.7,132.9 198.5,128.9 208.3,126.4 228.0,125.5 250.0,125.0 274.5,125.9 289.3,129.3 309.0,133.0 333.7,136.2 355.9,138.7 387.9,144.1 412.2,144.7 439.3,148.4 464.0,153.3 488.6,157.0 513.3,159.4 533.0,162.4 550.0,165.6 564.7,168.8 589.3,174.7 614.0,182.9 638.6,190.3 663.3,196.4 690.0,203.8 714.7,212.5 739.3,222.3 764.0,232.2 788.6,235.9 823.1,240.3" fill="none" stroke="#ff8000" stroke-width="1" shape-rendering="crispEdges"/>
<polyline points="94.9,77.1 108.5,100.0 117.1,116.1 127.0,142.0 135.6,153.0 149.2,167.9 164.0,183.9 173.8,195.0 179.1,199.1 186.4,206.4 191.8,210.5 198.2,211.8 201.4,213.2 206.4,217.3 210.9,223.6 215.5,230.9 224.5,236.4 233.6,242.7 240.0,247.7 249.9,256.3 264.7,272.3 279.4,283.4 294.2,303.1 309.0,320.4 326.3,338.9 343.5,353.7 358.3,366.0 368.2,368.0 390.4,367.2 402.2,360.0 419.7,345.6 431.4,335.2 444.3,318.4 457.3,299.0 468.0,287.0 476.3,281.5 493.6,270.4 501.0,266.7 520.7,245.7 537.9,228.5 550.0,217.4 564.7,201.4 589.3,187.8 609.0,180.4 626.3,177.9 643.5,174.2 655.9,168.1 670.7,169.3 687.9,176.7 709.7,194.0 727.0,212.5 746.7,222.3 764.0,227.2 776.3,226.0 793.6,221.1 808.3,218.6 823.1,214.9" fill="none" stroke="#00009c" stroke-width="1" shape-rendering="crispEdges"/>
<polyline points="94.9,155.5 102.3,175.3 108.5,195.0 119.6,212.3 127.0,227.0 134.4,235.7 144.2,240.6 156.6,236.9 168.9,233.2 174.5,234.5 177.3,233.6 183.6,229.5 192.7,220.0 198.2,212.7 200.9,211.4 204.5,210.5 207.7,210.7 211.8,219.1 215.5,225.5 222.7,229.5 227.3,235.5 231.8,240.9 235.5,248.2 240.0,258.2 243.5,265.0 252.3,284.7 259.7,304.4 269.6,331.5 277.0,351.2 286.8,374.6 294.2,382.0 304.1,396.8 311.5,404.2 326.3,403.5 336.2,396.8 351.0,387.0 360.8,374.6 369.1,359.2 383.4,339.1 395.0,326.2 411.9,305.4 429.4,290.1 449.2,265.5 471.4,238.3 481.2,237.8 488.6,235.9 496.0,239.6 503.4,233.4 513.3,219.9 518.2,217.4 533.0,205.1 552.3,190.3 564.7,173.0 574.5,155.7 583.1,152.0 601.6,155.7 626.3,159.4 633.7,164.4 646.0,178.0 655.9,180.4 668.2,187.1 683.0,194.0 690.0,200.1 702.3,214.9 714.7,230.9 727.0,247.0 739.3,256.8 751.6,260.5 766.4,259.3 776.3,247.0 788.6,223.6 801.0,201.4 813.3,183.6 823.1,172.3" fill="none" stroke="#000000" stroke-width="1" shape-rendering="crispEdges"/>
<line x1="91" y1="136.5" x2="856" y2="136.5" stroke="#1a7fe6" stroke-dasharray="3 3"/>
<line x1="180" y1="155.5" x2="188" y2="155.5" stroke="#000"/><line x1="183.5" y1="153" x2="183.5" y2="158" stroke="#000"/>
<line x1="565" y1="91.5" x2="572" y2="91.5" stroke="#000"/><line x1="567.5" y1="89" x2="567.5" y2="94" stroke="#000"/>
<line x1="804" y1="114.5" x2="816" y2="114.5" stroke="#000"/><line x1="815.5" y1="112" x2="815.5" y2="117" stroke="#000"/>
<line x1="291" y1="497.5" x2="298" y2="497.5" stroke="#000"/>
<line x1="702" y1="338.5" x2="708" y2="338.5" stroke="#000"/><line x1="705.5" y1="336" x2="705.5" y2="341" stroke="#000"/>
</svg>
<div class="yl" style="top:13px">105.7215</div><div class="yl" style="top:69px">105.1163</div><div class="yl" style="top:125px">104.5111</div><div class="yl" style="top:182px">103.9060</div><div class="yl" style="top:238px">103.3008</div><div class="yl" style="top:294px">102.6956</div><div class="yl" style="top:350px">102.0905</div><div class="yl" style="top:407px">101.4853</div><div class="yl" style="top:463px">100.8801</div><div class="yl" style="top:542px">0.4635</div><div class="yl" style="top:565px">0.3081</div><div class="yl" style="top:588px">0.1527</div><div class="yl" style="top:611px">-0.0027</div><div class="yl" style="top:633px">-0.1582</div><div class="yl" style="top:657px">-0.3136</div><div class="yl" style="top:680px">-0.4690</div><div class="yl" style="top:703px">-0.6244</div>

<svg width="925" height="771" style="position:absolute;left:0;top:0">
<circle cx="192.7" cy="11.4" r="4.3" fill="none" stroke="#ff8000" stroke-width="1"/>
<line x1="188.4" y1="11.5" x2="197" y2="11.5" stroke="#ff8000"/><line x1="192.7" y1="7" x2="192.7" y2="15.8" stroke="#ff8000"/>
<rect x="205.5" y="1.5" width="11" height="11" fill="#fff" stroke="#0b1a8a" stroke-width="1"/>
<line x1="206" y1="13.5" x2="217" y2="13.5" stroke="#333"/><line x1="217.5" y1="2" x2="217.5" y2="14" stroke="#333"/>
<polyline points="206,9 209.5,5 212,8 214.5,5.5 216,5.5" fill="none" stroke="#ff1a1a" stroke-width="1"/>
<polyline points="206,12 209.5,8 212,11 214.5,8.5 216,8.5" fill="none" stroke="#1a1aff" stroke-width="1"/>
<polygon points="726,1.5 730.5,6 727.5,6 727.5,11 725,11 725,6 721.5,6" fill="#ff0000"/>
<polyline points="721,7.5 724.5,7.5" stroke="#000" fill="none"/><polyline points="728,7.5 729.5,7.5 729.5,12.5 725,12.5" stroke="#000" fill="none"/>
<g fill="none" stroke="#1f78d0" stroke-width="1.3">
<rect x="792.65" y="1.65" width="12.7" height="12.7"/><rect x="808.65" y="1.65" width="12.7" height="12.7"/><rect x="824.65" y="1.65" width="12.7" height="12.7"/><rect x="840.65" y="1.65" width="12.7" height="12.7"/>
</g>
<g fill="#1f78d0">
<rect x="794" y="7.4" width="3" height="1.3"/><rect x="801" y="7.4" width="3" height="1.3"/><rect x="798.4" y="3.5" width="1.3" height="2.5"/><rect x="798.4" y="10" width="1.3" height="2.5"/><rect x="798.4" y="7.4" width="1.3" height="1.3"/>
<rect x="811.3" y="3.5" width="1" height="9"/><polygon points="811.8,2.5 813.6,4.6 810,4.6"/><rect x="810.5" y="11.3" width="8.5" height="1"/><polygon points="820,11.8 818,10 818,13.6"/><polygon points="818.5,4.5 818.5,10.5 815,7.5"/><rect x="814.2" y="4.5" width="1" height="6"/>
<rect x="827.3" y="3.5" width="1" height="9"/><polygon points="827.8,2.5 829.6,4.6 826,4.6"/><rect x="826.5" y="11.3" width="8.5" height="1"/><polygon points="836,11.8 834,10 834,13.6"/><polygon points="830,4.5 830,10.5 834.5,7.5"/>
<rect x="843.3" y="3.5" width="1" height="9"/><rect x="843.3" y="3.5" width="3" height="1"/><rect x="843.3" y="11.5" width="3" height="1"/><rect x="845.5" y="3.5" width="1" height="9"/><rect x="846.5" y="7" width="3" height="2"/><polygon points="849,4.5 849,11.5 852,8"/>
</g>
<g shape-rendering="crispEdges"><circle cx="29" cy="536" r="3.8" fill="none" stroke="#000" stroke-width="1"/><circle cx="29" cy="536" r="2" fill="#f00"/>
<g stroke="#f00" stroke-width="1.2"><line x1="29" y1="529.5" x2="29" y2="531.5"/><line x1="29" y1="540.5" x2="29" y2="542.5"/><line x1="22.5" y1="536" x2="24.5" y2="536"/><line x1="33.5" y1="536" x2="35.5" y2="536"/>
<line x1="23.5" y1="530.5" x2="25" y2="532"/><line x1="34.5" y1="530.5" x2="33" y2="532"/><line x1="23.5" y1="541.5" x2="25" y2="540"/><line x1="34.5" y1="541.5" x2="33" y2="540"/></g></g>
<polygon points="919,128 923,132 915,132" fill="#ff8000"/><polygon points="919,131 923,136 915,136" fill="#ff8000"/>
</svg>
<div class="yr" style="top:13px">105.7215</div><div class="yr" style="top:69px">105.1163</div><div class="yr" style="top:125px">104.5111</div><div class="yr" style="top:182px">103.9060</div><div class="yr" style="top:238px">103.3008</div><div class="yr" style="top:294px">102.6956</div><div class="yr" style="top:350px">102.0905</div><div class="yr" style="top:407px">101.4853</div><div class="yr" style="top:463px">100.8801</div><div class="yr" style="top:542px">0.4635</div><div class="yr" style="top:565px">0.3081</div><div class="yr" style="top:588px">0.1527</div><div class="yr" style="top:611px">-0.0027</div><div class="yr" style="top:633px">-0.1582</div><div class="yr" style="top:657px">-0.3136</div><div class="yr" style="top:680px">-0.4690</div><div class="yr" style="top:703px">-0.6244</div>
<div class="lg" style="left:92px;color:#000;font-weight:500">美元指数</div>
<div class="lg" style="left:139px;color:#ff7f00">【日线】</div>
<div class="lg" style="left:221px;color:#111">MA1(10,20,50,100)</div>
<div class="lg" style="left:331px;color:#111">MA10:104.1103</div>
<div class="lg" style="left:428px;color:#0000a0">MA20:103.6493</div>
<div class="lg" style="left:525px;color:#ff00ff">MA50:103.8087</div>
<div class="lg" style="left:622px;color:#ff8000">MA100:103.3729</div>
<div class="lg" style="left:92px;top:531px;color:#111;letter-spacing:0.15px">MACD(26,12,9) DIFF:0.2132</div>
<div class="lg" style="left:256px;top:531px;letter-spacing:0.05px;color:#0000a0">DEA:0.0864</div>
<div class="lg" style="left:329px;top:531px;color:#ff00ff">MACD:0.2535</div>
<div style="position:absolute;left:855px;top:136px;width:72px;height:18px;border:1.5px solid #ff7f00;background:#fff;color:#ff7f00;font-size:12px;line-height:17px;padding-left:2px">104.4880</div>
<div style="position:absolute;left:855px;top:179px;width:68px;height:18px;border:1px solid #dde5ee;background:#fff;color:#ff7f00;font-size:12px;line-height:16px;padding-left:2px">104.0241</div>
<div style="position:absolute;left:19px;top:735px;width:71px;height:20px;border:1px solid #d5dde6;color:#ff7f00;font:bold 13px/19px 'Liberation Sans',sans-serif;padding-left:15px">日线<span style="font-size:12px;margin-left:5px">▲</span></div>
<div class="dt" style="left:145px">2023/12</div>
<div class="dt" style="left:313px">2024/01</div>
<div class="dt" style="left:665px">2024/03</div>
<div style="position:absolute;left:478px;top:736px;width:110px;height:17px;border:1px solid #e6ebf0;color:#ff8000;font:12px/15px 'Liberation Sans',sans-serif;padding-left:2px"><span style="font-size:12.7px">2024/01/30</span><span style="margin-left:5px">星期二</span></div>
<div class="tab cn" style="left:19.5px;width:40.0px">指标</div><div class="tab cn" style="left:59.5px;width:40.5px">模板</div><div class="tab vip" style="left:100px;width:57.5px"><span style="font:9.5px/15px 'Liberation Mono',monospace">VIP</span>指标</div><div class="tab " style="left:157.5px;width:76.0px">BARUPDN_UD</div><div class="tab " style="left:233.5px;width:58.5px">BIAS_UD</div><div class="tab " style="left:292px;width:57.5px">BOLL_UD</div><div class="tab " style="left:349.5px;width:52.0px">CCI_UD</div><div class="tab " style="left:401.5px;width:46.5px">DMI_UD</div><div class="tab " style="left:448px;width:75px">INSIDE_UD</div><div class="tab " style="left:523px;width:47px">KD_UD</div><div class="tab " style="left:570px;width:51px">KDJ_UD</div><div class="tab " style="left:621px;width:46px">MA_UD</div><div class="tab " style="left:667px;width:57.5px">MACD_UD</div><div class="tab " style="left:724.5px;width:29.0px">>></div>
<div style="position:absolute;left:753px;top:755px;width:172px;height:1px;background:#d9dee6"></div>
</body></html>
